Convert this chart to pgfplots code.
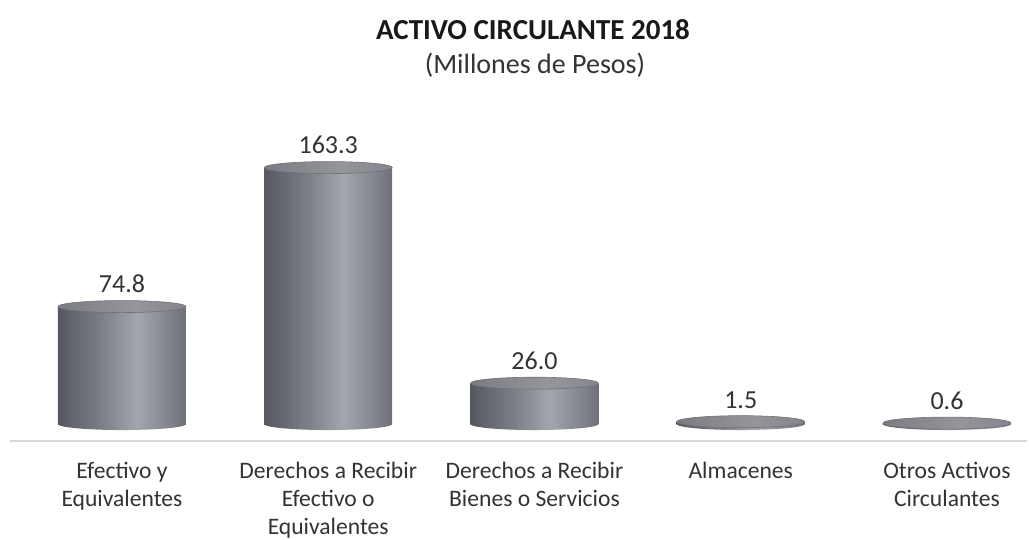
\documentclass[border=0pt]{standalone}
\usepackage{pgfplots}
\pgfplotsset{compat=1.18}
\usepackage{fontspec}
\setmainfont{Carlito}
\definecolor{cA}{HTML}{55585E}
\definecolor{cB}{HTML}{7C7F85}
\definecolor{cC}{HTML}{A3A6AC}
\definecolor{cD}{HTML}{6E7177}
\definecolor{tA}{HTML}{7A7C82}
\definecolor{tB}{HTML}{94969C}
\definecolor{tC}{HTML}{84868C}
\definecolor{rim}{HTML}{707278}
\pgfdeclarehorizontalshading{cylbody}{100bp}{color(0bp)=(cA); color(25bp)=(cA); color(42bp)=(cB); color(56bp)=(cC); color(75bp)=(cD); color(100bp)=(cD)}
\pgfdeclarehorizontalshading{cyltop}{100bp}{color(0bp)=(tA); color(25bp)=(tA); color(55bp)=(tB); color(75bp)=(tC); color(100bp)=(tC)}
\pgfdeclareplotmark{cylbot}{%
  \pgftext{\tikz\path[draw=none, shade, shading=cylbody] (0,0) ellipse (32pt and 3pt);}}
\pgfdeclareplotmark{cyltopmark}{%
  \pgftext{\tikz\path[shade, shading=cyltop, draw=rim, line width=0.3pt] (0,0) ellipse (32pt and 3pt);}}
\pgfplotsset{cylbar/.style={ybar, bar width=64pt, bar shift=0pt, draw=none, shade, shading=cylbody}}
\pgfplotstableread{
x y
0 74.8
1 163.3
2 26.0
3 1.5
4 0.6
}\datatab
\begin{document}
\begin{tikzpicture}
\path[use as bounding box] (0,0) rectangle (514.5pt,270pt);
\begin{axis}[
  at={(5pt,49.5pt)}, anchor=south west,
  scale only axis, width=508.5pt, height=145.9pt,
  xmin=-0.543, xmax=4.388, ymin=-10.8, ymax=175,
  axis x line=bottom, axis y line=none,
  x axis line style={draw=black!15, line width=1.1pt, -},
  xtick={0,1,2,3,4}, major tick length=0pt,
  xticklabels={{Efectivo y\\Equivalentes},{Derechos a Recibir\\Efectivo o\\Equivalentes},{Derechos a Recibir\\Bienes o Servicios},{Almacenes},{Otros Activos\\Circulantes}},
  xticklabel style={align=center, anchor=north, inner sep=0pt, yshift=-10.5pt, font=\fontsize{11.8}{13.9}\selectfont, text=black!80},
  /pgf/number format/assume math mode=true,
  clip=false,
]
\addplot[only marks, mark=cylbot] coordinates {(0,0) (1,0) (2,0) (3,0) (4,0)};
\addplot[cylbar] coordinates {(0,74.8)};
\addplot[cylbar] coordinates {(1,163.3)};
\addplot[cylbar] coordinates {(2,26.0)};
\addplot[cylbar] coordinates {(3,1.5)};
\addplot[cylbar] coordinates {(4,0.6)};
\addplot[only marks, mark=cyltopmark,
  nodes near coords={\pgfmathprintnumber[fixed,fixed zerofill,precision=1]{\pgfplotspointmeta}},
  every node near coord/.style={anchor=south, inner sep=0pt, yshift=6.5pt, font=\fontsize{13}{14}\selectfont, text=black!80}]
  table[x=x,y=y] {\datatab};
\end{axis}
\node[font=\bfseries\fontsize{14.5}{16}\selectfont, text=black!90] at (266.5pt,255pt) {ACTIVO CIRCULANTE 2018};
\node[font=\fontsize{14}{16}\selectfont, text=black!80] at (267.5pt,237.5pt) {(Millones de Pesos)};
\end{tikzpicture}
\end{document}
